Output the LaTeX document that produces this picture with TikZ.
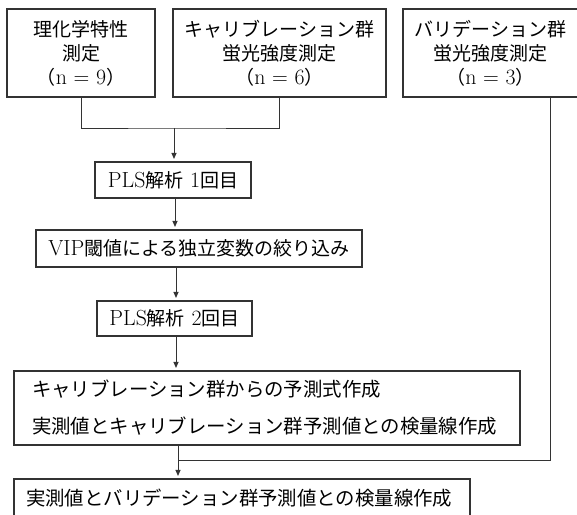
\documentclass[tikz,border=0pt]{standalone}
\usepackage{fontspec}
\setmainfont{Latin Modern Roman}[Scale=1.15]
\newfontfamily\jpfont{Noto Sans CJK JP}
\newcommand{\J}[1]{{\jpfont #1}}
\usetikzlibrary{arrows.meta}
\begin{document}
\begin{tikzpicture}[x=1pt,y=-1pt,
  box/.style={draw=black!80, line width=1.1pt, inner sep=0pt, text=black,
    font=\fontsize{19}{24}\selectfont},
  cbox/.style={box, align=center},
  lbox/.style={box, align=left, font=\fontsize{19.4}{37}\selectfont},
  conn/.style={draw=black!80, line width=1pt},
  arr/.style={conn, -{Triangle[length=6pt,width=5pt]}, shorten >=2.5pt}]
\useasboundingbox (0,0) rectangle (577,514);
\clip (0,0) rectangle (577,514);
\fill[white] (0,0) rectangle (577,514);
% top boxes
\node[cbox, minimum width=148pt, minimum height=88pt] (b1) at (81,53)
  {\J{理化学特性}\\\J{測定}\\\J{（}n = 9\J{）}};
\node[cbox, minimum width=213pt, minimum height=88pt] (b2) at (279.5,53)
  {\J{キャリブレーション群}\\\J{蛍光強度測定}\\\J{（}n = 6\J{）}};
\node[cbox, minimum width=175pt, minimum height=88pt] (b3) at (490.5,53)
  {\J{バリデーション群}\\\J{蛍光強度測定}\\\J{（}n = 3\J{）}};
% middle boxes
\node[cbox, minimum width=156pt, minimum height=36pt] (p1) at (173,180)
  {PLS\J{解析} 1\J{回目}};
\node[cbox, minimum width=326pt, minimum height=37pt] (vip) at (199,248.5)
  {VIP\J{閾値による独立変数の絞り込み}};
\node[cbox, minimum width=155pt, minimum height=35pt] (p2) at (174.5,318.5)
  {PLS\J{解析} 2\J{回目}};
% bottom boxes
\node[lbox, text width=470pt, inner xsep=18pt, minimum height=74pt] (big) at (267,408)
  {\J{キャリブレーション群からの予測式作成}\\\J{実測値とキャリブレーション群予測値との検量線作成}};
\node[lbox, text width=432pt, inner xsep=12pt, minimum height=38pt] (fin) at (242,498)
  {\J{実測値とバリデーション群予測値との検量線作成}};
% connectors
\coordinate (j1) at (174,128);
\coordinate (j2) at (178,460);
\coordinate (j3) at (550,460);
\draw[conn] (b1.south) |- (j1) -| (b2.south);
\draw[arr] (j1) -- (j1 |- p1.north);
\draw[arr] (p1.south -| 175,0) -- (vip.north -| 175,0);
\draw[arr] (vip.south -| 176,0) -- (p2.north -| 176,0);
\draw[arr] (p2.south -| 176,0) -- (big.north -| 176,0);
\draw[conn] (j3 |- b3.south) -- (j3) -- (j2);
\draw[arr] (j2 |- big.south) -- (j2 |- fin.north);
\end{tikzpicture}
\end{document}
